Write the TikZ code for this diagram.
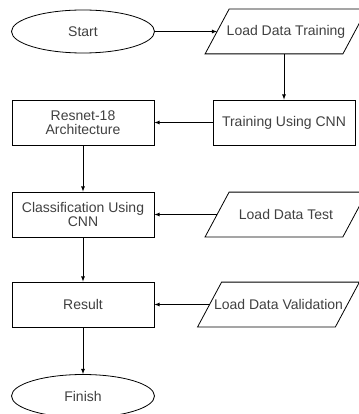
\documentclass[tikz,border=0pt]{standalone}
\usepackage{fontspec}
\setmainfont{Liberation Sans}
\usepackage{tikz}
\usetikzlibrary{shapes.geometric}
\usetikzlibrary{arrows}
\usepackage{xcolor}
\definecolor{labelgray}{HTML}{404040}

\begin{document}
\begin{tikzpicture}
	[x=1pt, y=-1pt, line width=0.8pt, >=latex,
	font=\fontsize{14}{14}\selectfont,
	terminal/.style = {
		draw, ellipse, minimum width=143pt, minimum height=43pt,
		text=labelgray
	},
	process/.style = {
		draw, rectangle, minimum width=142pt, minimum height=45pt,
		align=center, text=labelgray
	},
	dataio/.style = {
		rectangle, minimum width=137pt, minimum height=44pt,
		inner sep=0pt, text=labelgray
	}]
	\useasboundingbox (0,0) rectangle (358,414);
	
	%Draw nodes
	\node[terminal] at (83,31.5) (start) {Start};
	\node[dataio] at (286,31.5) (ldtrain) {Load Data Training};
	\node[process] at (284,122.5) (train) {Training Using CNN};
	\node[process] at (83,122.5) (resnet) {Resnet-18\\Architecture};
	\node[process] at (83,214.5) (classif) {Classification Using\\CNN};
	\node[dataio] at (286,214.5) (ldtest) {Load Data Test};
	\node[process] at (83,304.5) (result) {Result};
	\node[dataio] at (278.5,304.5) (ldval) {Load Data Validation};
	\node[terminal] at (83,396) (finish) {Finish};
	
	%Draw slanted data boxes
	\foreach \n in {ldtrain,ldtest,ldval}
		\draw ([xshift=-12pt]\n.south west) -- ([xshift=-12pt]\n.south east)
		-- ([xshift=12pt]\n.north east) -- ([xshift=12pt]\n.north west) -- cycle;
	
	%Draw wires
	\draw[->] (start) -- (ldtrain);
	\draw[->] (ldtrain.south -| train.north) -- (train);
	\draw[->] (train) -- (resnet);
	\draw[->] (resnet) -- (classif);
	\draw[->] (ldtest) -- (classif);
	\draw[->] (classif) -- (result);
	\draw[->] (ldval) -- (result);
	\draw[->] (result) -- (finish);
\end{tikzpicture}
\end{document}
